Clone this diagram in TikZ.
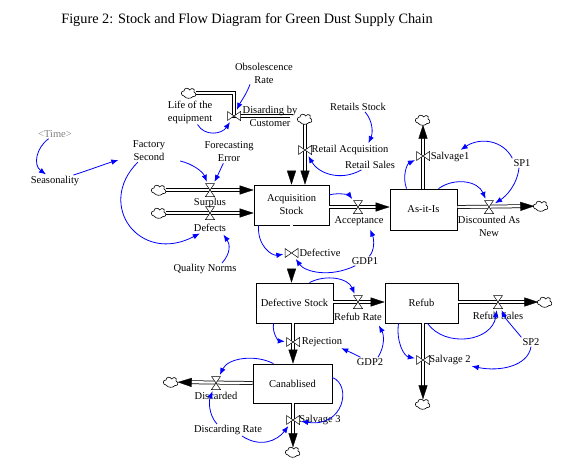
\documentclass[tikz,border=0pt]{standalone}
\usepackage{fontspec}
\setmainfont{Liberation Serif}
\usetikzlibrary{arrows.meta,calc}
\definecolor{linkblue}{RGB}{0,0,255}
\definecolor{timegray}{RGB}{128,128,128}
\tikzset{
  lbl/.style={font=\fontsize{10.5}{13}\selectfont, inner sep=1pt, align=center},
  stockbox/.style={draw, line width=0.8pt, fill=white, inner sep=1pt, align=center, font=\fontsize{10.5}{13}\selectfont},
  pipe/.style={draw=black, line width=0.75pt, double=white, double distance=2.3pt, shorten >=11pt},
  ftip/.style={draw=white, line width=0.3pt, -{Triangle[color=black,length=14pt,width=9pt]}},
  link/.style={draw=linkblue, line width=0.8pt, -{Latex[length=7pt,width=5.5pt]}, shorten >=1pt},
  vh/.style={inner sep=0pt, minimum width=10pt, minimum height=14pt},
  vv/.style={inner sep=0pt, minimum width=14pt, minimum height=10pt},
  cl/.style={inner sep=0pt, minimum width=13pt, minimum height=9pt},
  cloudpic/.pic={\filldraw[fill=white, draw=black, line width=0.6pt]
    (-5pt,-3pt) .. controls (-8.5pt,-3pt) and (-8.5pt,2.5pt) .. (-5pt,2pt)
    .. controls (-5pt,5.5pt) and (0pt,5.5pt) .. (0.5pt,3pt)
    .. controls (2.5pt,5.5pt) and (6.5pt,4.5pt) .. (5pt,1pt)
    .. controls (8pt,0pt) and (7pt,-4.5pt) .. (4pt,-3.5pt)
    .. controls (2pt,-6pt) and (-3pt,-6pt) .. (-5pt,-3pt) -- cycle;},
  valveh/.pic={\filldraw[fill=white, draw=black, line width=0.5pt] (-4.5pt,6.5pt) -- (4.5pt,6.5pt) -- (0pt,0pt) -- cycle (-4.5pt,-6.5pt) -- (4.5pt,-6.5pt) -- (0pt,0pt) -- cycle;},
  valvev/.pic={\filldraw[fill=white, draw=black, line width=0.5pt] (6.5pt,-4.5pt) -- (6.5pt,4.5pt) -- (0pt,0pt) -- cycle (-6.5pt,-4.5pt) -- (-6.5pt,4.5pt) -- (0pt,0pt) -- cycle;}
}
\begin{document}
\begin{tikzpicture}[x=1pt,y=-1pt]
\useasboundingbox[fill=white] (0,0) rectangle (565,463);
\node[font=\fontsize{14.3}{16}\selectfont] (title) at (247,20) {Figure 2: Stock and Flow Diagram for Green Dust Supply Chain};

% stocks
\node[stockbox, minimum width=75pt, minimum height=40pt] (acq) at (291.5,205) {Acquisition\\Stock};
\node[stockbox, minimum width=67pt, minimum height=41pt] (asis) at (423.5,209.5) {As-it-Is};
\node[stockbox, minimum width=77pt, minimum height=40pt] (defs) at (294.5,303) {Defective Stock};
\node[stockbox, minimum width=73pt, minimum height=40pt] (refub) at (421.5,303) {Refub};
\node[stockbox, minimum width=79pt, minimum height=39pt] (canab) at (292.5,383.5) {Canablised};

% clouds (anchors)
\node[cl] (cS) at (159,190) {};
\node[cl] (cD) at (159,213) {};
\node[cl] (cO) at (189,93) {};
\node[cl] (cR) at (305,119) {};
\node[cl] (cS1) at (423,120) {};
\node[cl] (cDN) at (541,206) {};
\node[cl] (cRS) at (545,302) {};
\node[cl] (cS2) at (423,404) {};
\node[cl] (cDc) at (171,382) {};
\node[cl] (cS3) at (293,452) {};

% valve anchors
\node[vh] (vS) at (210,190) {};
\node[vh] (vD) at (210,213) {};
\node[vv] (vO) at (234,116) {};
\node[vv] (vR) at (305,150) {};
\node[vh] (vA) at (358,207) {};
\node[vv] (vS1) at (423,156) {};
\node[vh] (vDN) at (489,207) {};
\node[vv] (vDf) at (291.5,253) {};
\node[vh] (vRR) at (358,302) {};
\node[vh] (vRS) at (498,302) {};
\node[vv] (vRj) at (293,342) {};
\node[vv] (vS2) at (423,360) {};
\node[vh] (vDc) at (216,383) {};
\node[vv] (vS3) at (293,420) {};

% pipes
\draw[pipe] (cS) -- (cS -| acq.west);
\draw[ftip] (vS.center) -- (cS -| acq.west);
\draw[pipe] (cD) -- (cD -| acq.west);
\draw[ftip] (vD.center) -- (cD -| acq.west);
\draw[pipe] (cO) -- (cO -| vO.center) -- (vO.center) -- (vO.center -| acq.north) -- (acq.north);
\draw[ftip] (vO.center -| acq.north) -- (acq.north);
\draw[pipe] (cR) -- (cR |- acq.north);
\draw[ftip] (vR.center) -- (cR |- acq.north);
\draw[pipe] (vA.center -| acq.east) -- (vA.center -| asis.west);
\draw[ftip] (vA.center) -- (vA.center -| asis.west);
\draw[pipe] (vS1.center |- asis.north) -- (cS1);
\draw[ftip] (vS1.center) -- (cS1);
\draw[pipe] (vDN.center -| asis.east) -- (cDN);
\draw[ftip] (vDN.center) -- (cDN);
\draw[pipe] (acq.south) -- (acq.south |- defs.north);
\draw[ftip] (vDf.center) -- (acq.south |- defs.north);
\draw[pipe] (vRR.center -| defs.east) -- (vRR.center -| refub.west);
\draw[ftip] (vRR.center) -- (vRR.center -| refub.west);
\draw[pipe] (vRS.center -| refub.east) -- (cRS);
\draw[ftip] (vRS.center) -- (cRS);
\draw[pipe] (vRj.center |- defs.south) -- (vRj.center |- canab.north);
\draw[ftip] (vRj.center) -- (vRj.center |- canab.north);
\draw[pipe] (vS2.center |- refub.south) -- (cS2);
\draw[ftip] (vS2.center) -- (cS2);
\draw[pipe] (vDc.center -| canab.west) -- (cDc);
\draw[ftip] (vDc.center) -- (cDc);
\draw[pipe] (vS3.center |- canab.south) -- (cS3);
\draw[ftip] (vS3.center) -- (cS3);

% clouds and valves
\foreach \c in {cS,cD,cO,cR,cS1,cDN,cRS,cS2,cDc,cS3} {\pic at (\c) {cloudpic};}
\foreach \v in {vS,vD,vA,vDN,vRR,vRS,vDc} {\pic at (\v) {valveh};}
\foreach \v in {vO,vR,vS1,vDf,vRj,vS2,vS3} {\pic at (\v) {valvev};}

% flow labels
\node[lbl] (lSur) at (210,203) {Surplus};
\node[lbl] (lDef) at (210,228) {Defects};
\node[lbl] (lDis) at (270,116) {Disarding by\\Customer};
\node[lbl] (lRA) at (350,150) {Retail Acquisition};
\node[lbl] (lAcc) at (359,221) {Acceptance};
\node[lbl] (lS1) at (450,157) {Salvage1};
\node[lbl] (lDN) at (489,226) {Discounted As\\New};
\node[lbl] (lDf) at (320,253) {Defective};
\node[lbl] (lRR) at (358,317) {Refub Rate};
\node[lbl] (lRS) at (498,316) {Refub Sales};
\node[lbl] (lRj) at (322,342) {Rejection};
\node[lbl] (lS2) at (450,360) {Salvage 2};
\node[lbl] (lDc) at (216,396) {Discarded};
\node[lbl] (lS3) at (320,420) {Salvage 3};

% auxiliaries
\node[lbl, text=timegray] (time) at (55,134) {<Time>};
\node[lbl] (seas) at (55,181) {Seasonality};
\node[lbl] (fs) at (149,151) {Factory\\Second};
\node[lbl] (fe) at (229,152) {Forecasting\\Error};
\node[lbl] (obs) at (264,73) {Obsolescence\\Rate};
\node[lbl] (life) at (190,112) {Life of the\\equipment};
\node[lbl] (rstock) at (358,107) {Retails Stock};
\node[lbl] (rsales) at (370,165) {Retail Sales};
\node[lbl] (sp1) at (522,163) {SP1};
\node[lbl] (gdp1) at (365,261) {GDP1};
\node[lbl] (qn) at (205,269) {Quality Norms};
\node[lbl] (gdp2) at (370,362) {GDP2};
\node[lbl] (sp2) at (531,342) {SP2};
\node[lbl] (dr) at (228,430) {Discarding Rate};

% links
\draw[link] (time) .. controls (36,148) and (33,165) .. (seas);
\draw[link, shorten >=14pt] (seas) .. controls (95,168) and (105,164) .. (fs);
\draw[link] (life) .. controls (205,137) and (222,134) .. (vO);
\draw[link] ([xshift=-14pt]obs.south) .. controls (246,95) and (240,103) .. (vO);
\draw[link] ([xshift=14pt,yshift=-10pt]fs.east) .. controls (193,164) and (203,172) .. (vS);
\draw[link] (fe) .. controls (221,168) and (217,177) .. (vS);
\draw[link] (fs) .. controls (95,205) and (140,265) .. (lDef);
\draw[link, shorten >=2pt] ([xshift=17pt]qn.north) .. controls (231,253) and (230,244) .. ([xshift=-5pt]lDef.south east);
\draw[link] (acq.15) .. controls (341,192) and (350,196) .. (vA);
\draw[link, shorten >=3pt] (gdp1) .. controls (375,250) and (374,239) .. ([xshift=10pt]lAcc.south);
\draw[link] ([xshift=5pt]acq.south west) .. controls (257,246) and (272,256) .. (vDf);
\draw[link] (gdp1) .. controls (330,278) and (305,272) .. (vDf);
\draw[link] ([xshift=7pt]rstock.south) .. controls (373,121) and (373,133) .. ([xshift=18pt]lRA.north);
\draw[link] (rsales) .. controls (340,182) and (318,173) .. (vR);
\draw[link] ([xshift=-17pt]asis.north) .. controls (402,176) and (407,164) .. (vS1);
\draw[link, shorten >=2pt] (sp1.north west) .. controls (503,140) and (480,137) .. (lS1);
\draw[link] ([xshift=15pt]asis.north) .. controls (455,177) and (478,181) .. (vDN);
\draw[link] ([xshift=-3pt]sp1.south) .. controls (517,186) and (505,197) .. (vDN);
\draw[link] ([xshift=15pt]defs.north) .. controls (326,274) and (348,278) .. (vRR);
\draw[link, shorten >=4pt] ([xshift=8pt]gdp2.north) .. controls (385,346) and (384,335) .. ([xshift=19pt]lRR.south);
\draw[link] (gdp2) .. controls (360,357) and (350,352) .. ([xshift=-3pt]lRj.south east);
\draw[link] ([xshift=-21pt]defs.south) .. controls (272,334) and (279,341) .. (vRj);
\draw[link] ([xshift=6pt]refub.south) .. controls (445,348) and (492,342) .. (vRS);
\draw[link] (sp2.north west) .. controls (512,326) and (505,318) .. (vRS);
\draw[link] (sp2.south) .. controls (528,366) and (500,372) .. ([xshift=-1pt]lS2.south east);
\draw[link] ([xshift=-23pt]refub.south) .. controls (396,342) and (404,356) .. (vS2);
\draw[link] ([xshift=-19pt]canab.north) .. controls (255,354) and (228,358) .. (vDc);
\draw[link] ([xshift=-11pt]dr.north) .. controls (208,414) and (209,400) .. (vDc);
\draw[link] ([xshift=14pt]dr.south) .. controls (260,448) and (277,441) .. (vS3);
\draw[link] ([yshift=6pt]canab.east) .. controls (352,385) and (344,428) .. (vS3);
\end{tikzpicture}
\end{document}
